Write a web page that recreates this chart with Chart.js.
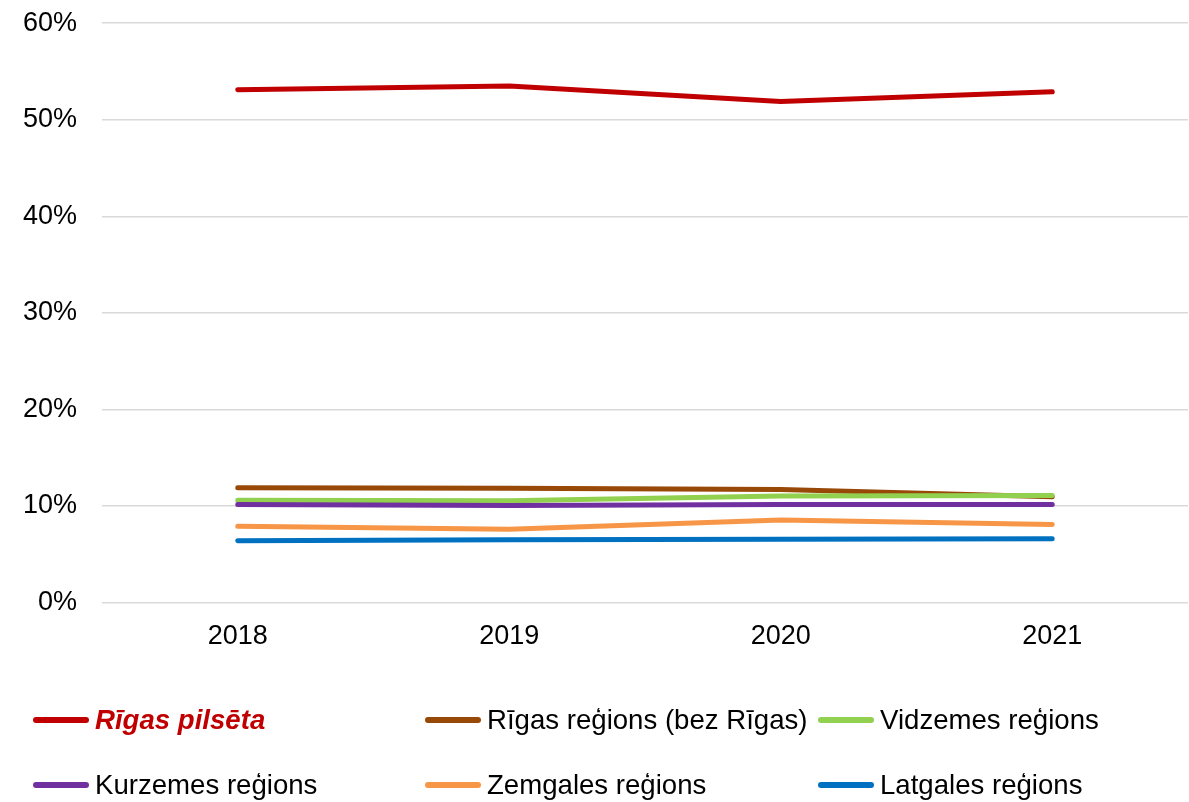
<!DOCTYPE html>
<html lang="lv">
<head>
<meta charset="utf-8">
<title>Reģionu īpatsvars</title>
<script src="https://cdn.jsdelivr.net/npm/chart.js@4/dist/chart.umd.min.js"></script>
<style>
    html, body {
        margin: 0;
        padding: 0;
        background: #ffffff;
        font-family: "Liberation Sans", Arial, sans-serif;
    }
    .wrap {
        position: relative;
        width: 1189px;
        height: 802px;
        overflow: hidden;
    }
    .chart-box {
        position: absolute;
        left: 0;
        top: -18px;
        width: 1189px;
        height: 681px;
    }
    .legend {
        position: absolute;
        left: 0;
        top: 0;
        width: 1189px;
        height: 802px;
        pointer-events: none;
    }
    .legend-item {
        position: absolute;
        display: flex;
        align-items: center;
        font-size: 27.6px;
        color: #000000;
        white-space: nowrap;
        transform: translateY(-50%);
    }
    .legend-item .swatch {
        display: inline-block;
        width: 56px;
        height: 6px;
        border-radius: 3px;
        margin-right: 6px;
    }
    .legend-item.main {
        color: #c00000;
        font-weight: bold;
        font-style: italic;
    }
</style>
</head>
<body>
<div class="wrap">
    <div class="chart-box"><canvas id="regionChart"></canvas></div>
    <div class="legend" id="legend"></div>
</div>
<script>
// --- Data ---
const years = ['2018', '2019', '2020', '2021'];
const seriesNames = [
    'Rīgas pilsēta',
    'Rīgas reģions (bez Rīgas)',
    'Vidzemes reģions',
    'Kurzemes reģions',
    'Zemgales reģions',
    'Latgales reģions'
];
const rigaCity = [53.1, 53.5, 51.9, 52.9];
const rigaRegion = [11.9, 11.85, 11.7, 10.95];
const vidzeme = [10.6, 10.55, 11.05, 11.1];
const kurzeme = [10.15, 10.05, 10.15, 10.15];
const zemgale = [7.9, 7.6, 8.55, 8.1];
const latgale = [6.4, 6.5, 6.55, 6.6];
const seriesColors = ['#c00000', '#984807', '#92d050', '#7030a0', '#f79646', '#0070c0'];
const yTicks = [0, 10, 20, 30, 40, 50, 60];

const allValues = [rigaCity, rigaRegion, vidzeme, kurzeme, zemgale, latgale];

// legend grid: [column x, row y]
const legendSpots = [[33, 720], [425, 720], [818, 720], [33, 785], [425, 785], [818, 785]];

document.addEventListener('DOMContentLoaded', function() {
    const ctx = document.getElementById('regionChart');

    const datasets = allValues.map((vals, i) => ({
        label: seriesNames[i],
        data: vals,
        borderColor: seriesColors[i],
        backgroundColor: seriesColors[i],
        borderWidth: 5,
        borderCapStyle: 'round',
        borderJoinStyle: 'round',
        pointRadius: 0,
        pointHoverRadius: 0,
        tension: 0,
        fill: false,
        order: allValues.length - i // later series painted on top, like the original
    }));

    new Chart(ctx, {
        type: 'line',
        data: { labels: years, datasets: datasets },
        options: {
            responsive: true,
            maintainAspectRatio: false,
            animation: false,
            layout: {
                padding: { top: 6, right: 1, bottom: 0, left: 0 }
            },
            plugins: {
                legend: { display: false },
                tooltip: { enabled: false }
            },
            scales: {
                x: {
                    offset: true,
                    grid: { display: false },
                    border: { display: false },
                    ticks: {
                        color: '#000000',
                        padding: 10,
                        maxRotation: 0,
                        font: { family: '"Liberation Sans", Arial, sans-serif', size: 27 }
                    }
                },
                y: {
                    min: 0,
                    max: 60,
                    afterBuildTicks: function(scale) {
                        scale.ticks = yTicks.map(v => ({ value: v }));
                    },
                    afterFit: function(scale) {
                        scale.width = 102;
                    },
                    grid: {
                        color: '#d9d9d9',
                        lineWidth: 1.5,
                        drawTicks: false
                    },
                    border: { display: false },
                    ticks: {
                        color: '#000000',
                        padding: 25,
                        font: { family: '"Liberation Sans", Arial, sans-serif', size: 27 },
                        callback: function(value) {
                            return value + '%';
                        }
                    }
                }
            }
        }
    });

    // --- HTML legend (first entry is bold italic red in the original) ---
    const legendBox = document.getElementById('legend');
    seriesNames.forEach((name, i) => {
        const item = document.createElement('div');
        item.className = 'legend-item' + (i === 0 ? ' main' : '');
        item.style.left = legendSpots[i][0] + 'px';
        item.style.top = legendSpots[i][1] + 'px';

        const swatch = document.createElement('span');
        swatch.className = 'swatch';
        swatch.style.background = seriesColors[i];

        const text = document.createElement('span');
        text.textContent = name;

        item.appendChild(swatch);
        item.appendChild(text);
        legendBox.appendChild(item);
    });
});
</script>
</body>
</html>
